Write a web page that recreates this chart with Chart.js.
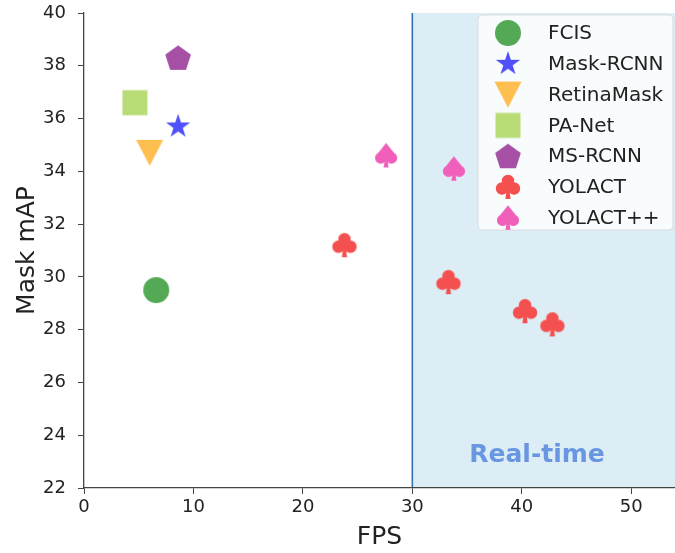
<!DOCTYPE html>
<html>
<head>
<meta charset="utf-8">
<script src="https://cdn.jsdelivr.net/npm/chart.js@4.4.1/dist/chart.umd.min.js"></script>
<style>
  html, body { margin: 0; padding: 0; background: #fff; overflow: hidden; }
  #wrap { width: 675px; height: 553px; position: relative; }
  #chart { display: block; }
</style>
</head>
<body>
<div id="wrap"><canvas id="chart"></canvas></div>
<script>
// values
const fpsFCIS = [6.6],        mapFCIS = [29.5];
const fpsMaskRCNN = [8.6],    mapMaskRCNN = [35.7];
const fpsRetinaMask = [6.0],  mapRetinaMask = [34.7];
const fpsPANet = [4.65],      mapPANet = [36.6];
const fpsMSRCNN = [8.6],      mapMSRCNN = [38.3];
const fpsYOLACT = [23.8, 33.3, 40.3, 42.8];
const mapYOLACT = [31.2, 29.8, 28.7, 28.2];
const fpsYOLACTpp = [27.6, 33.8];
const mapYOLACTpp = [34.6, 34.1];

const xTicks = [0, 10, 20, 30, 40, 50];
const yTicks = [22, 24, 26, 28, 30, 32, 34, 36, 38, 40];
const realTimeFps = 30;

const FONT = '"DejaVu Sans", "Liberation Sans", sans-serif';

function toPoints(xs, ys) {
  return xs.map((x, i) => ({ x: x, y: ys[i] }));
}

function makeMarker(size, draw) {
  const c = document.createElement("canvas");
  c.width = size;
  c.height = size;
  const g = c.getContext("2d");
  g.translate(size / 2, size / 2);
  draw(g);
  return c;
}

function polygon(g, pts, color) {
  g.beginPath();
  pts.forEach((p, i) => (i ? g.lineTo(p[0], p[1]) : g.moveTo(p[0], p[1])));
  g.closePath();
  g.fillStyle = color;
  g.fill();
}

function starPts(r, n, inner) {
  let pts = [];
  for (let i = 0; i < n * 2; i++) {
    let a = -Math.PI / 2 + (i * Math.PI) / n;
    let rr = i % 2 ? r * inner : r;
    pts.push([rr * Math.cos(a), rr * Math.sin(a)]);
  }
  return pts;
}

function disc(g, x, y, r) {
  g.moveTo(x + r, y);
  g.arc(x, y, r, 0, Math.PI * 2);
}

const markers = {
  circle: makeMarker(32, (g) => {
    g.beginPath();
    g.arc(0, 0, 13, 0, Math.PI * 2);
    g.fillStyle = "rgb(84,170,84)";
    g.fill();
  }),
  star: makeMarker(32, (g) => polygon(g, starPts(12.8, 5, 0.382), "rgb(80,80,250)")),
  triDown: makeMarker(32, (g) =>
    polygon(g, [[0, 13], [-13.5, -13], [13.5, -13]], "rgb(255,190,80)")
  ),
  square: makeMarker(32, (g) => {
    g.fillStyle = "rgb(186,220,118)";
    g.fillRect(-12.5, -12.5, 25, 25);
  }),
  pentagon: makeMarker(32, (g) => {
    let pts = [];
    for (let i = 0; i < 5; i++) {
      let a = -Math.PI / 2 + (i * 2 * Math.PI) / 5;
      pts.push([13.5 * Math.cos(a), 13.5 * Math.sin(a) + 1]);
    }
    polygon(g, pts, "rgb(165,80,165)");
  }),
  clubs: makeMarker(32, (g) => {
    g.fillStyle = "rgb(245,80,80)";
    g.beginPath();
    disc(g, 0, -6, 6.2);
    disc(g, -6, 1.5, 6.2);
    disc(g, 6, 1.5, 6.2);
    disc(g, 0, 0, 4);
    g.fill();
    g.beginPath();
    g.moveTo(-1.3, 2);
    g.lineTo(1.3, 2);
    g.lineTo(2.6, 12);
    g.lineTo(-2.6, 12);
    g.closePath();
    g.fill();
  }),
  spades: makeMarker(32, (g) => {
    g.fillStyle = "rgb(240,95,185)";
    g.beginPath();
    disc(g, -5.3, 2.5, 5.8);
    disc(g, 5.3, 2.5, 5.8);
    g.fill();
    polygon(g, [[0, -12.5], [-10.6, 0.8], [0, 7], [10.6, 0.8]], "rgb(240,95,185)");
    polygon(g, [[-1.2, 5], [1.2, 5], [2.6, 12], [-2.6, 12]], "rgb(240,95,185)");
  }),
};

function series(label, xs, ys, marker) {
  return {
    label: label,
    data: toPoints(xs, ys),
    pointStyle: marker,
    pointRadius: 13,
    pointHoverRadius: 13,
    showLine: false,
  };
}

const datasets = [
  series("FCIS", fpsFCIS, mapFCIS, markers.circle),
  series("Mask-RCNN", fpsMaskRCNN, mapMaskRCNN, markers.star),
  series("RetinaMask", fpsRetinaMask, mapRetinaMask, markers.triDown),
  series("PA-Net", fpsPANet, mapPANet, markers.square),
  series("MS-RCNN", fpsMSRCNN, mapMSRCNN, markers.pentagon),
  series("YOLACT", fpsYOLACT, mapYOLACT, markers.clubs),
  series("YOLACT++", fpsYOLACTpp, mapYOLACTpp, markers.spades),
];

// light blue real-time zone + its boundary line
const realTimeZone = {
  id: "realTimeZone",
  beforeDraw(chart) {
    const { ctx, chartArea, scales } = chart;
    const x30 = scales.x.getPixelForValue(realTimeFps);
    ctx.save();
    ctx.fillStyle = "rgb(220,237,245)";
    ctx.fillRect(x30, chartArea.top, chartArea.right - x30, chartArea.bottom - chartArea.top);
    ctx.strokeStyle = "rgb(50,115,180)";
    ctx.lineWidth = 1.6;
    ctx.beginPath();
    ctx.moveTo(x30, chartArea.top);
    ctx.lineTo(x30, chartArea.bottom);
    ctx.stroke();
    ctx.fillStyle = "rgb(105,150,225)";
    ctx.font = "bold 25px " + FONT;
    ctx.textBaseline = "alphabetic";
    ctx.fillText("Real-time", scales.x.getPixelForValue(35.2), scales.y.getPixelForValue(23));
    ctx.restore();
  },
};

// legend drawn inside the plot, top right
const innerLegend = {
  id: "innerLegend",
  afterDraw(chart) {
    const { ctx, chartArea } = chart;
    const left = chartArea.right - 197;
    const top = chartArea.top + 2;
    const w = 195, h = 215;
    ctx.save();
    ctx.beginPath();
    ctx.roundRect(left, top, w, h, 4);
    ctx.fillStyle = "rgba(255,255,255,0.8)";
    ctx.fill();
    ctx.strokeStyle = "rgb(215,220,222)";
    ctx.lineWidth = 1;
    ctx.stroke();
    ctx.font = "20px " + FONT;
    ctx.fillStyle = "#222";
    ctx.textBaseline = "middle";
    chart.data.datasets.forEach((ds, i) => {
      const cy = top + 18 + i * 30.8;
      const img = ds.pointStyle;
      ctx.drawImage(img, left + 30 - img.width / 2, cy - img.height / 2);
      ctx.fillText(ds.label, left + 70, cy + 1);
    });
    ctx.restore();
  },
};

const axisColor = "#444";

new Chart(document.getElementById("chart"), {
  type: "scatter",
  data: { datasets },
  plugins: [realTimeZone, innerLegend],
  options: {
    responsive: true,
    maintainAspectRatio: false,
    animation: false,
    events: [],
    layout: { autoPadding: false, padding: { top: 13, right: 0, left: 0, bottom: 0 } },
    plugins: {
      legend: { display: false },
      tooltip: { enabled: false },
    },
    scales: {
      x: {
        type: "linear",
        min: 0,
        max: 54,
        afterFit: (s) => { s.height = 65; s.paddingLeft = 0; s.paddingRight = 0; },
        afterBuildTicks: (s) => { s.ticks = xTicks.map((v) => ({ value: v })); },
        ticks: { color: "#222", font: { family: FONT, size: 18 }, padding: 3 },
        grid: { drawOnChartArea: false, drawTicks: true, tickLength: 6, tickColor: axisColor },
        border: { color: axisColor, width: 1.3 },
        title: {
          display: true,
          text: "FPS",
          color: "#222",
          font: { family: FONT, size: 25 },
          padding: { top: 0, bottom: 1 },
        },
      },
      y: {
        type: "linear",
        min: 22,
        max: 40,
        afterFit: (s) => { s.width = 84; s.paddingTop = 0; s.paddingBottom = 0; },
        afterBuildTicks: (s) => { s.ticks = yTicks.map((v) => ({ value: v })); },
        ticks: { color: "#222", font: { family: FONT, size: 18 }, padding: 12 },
        grid: { drawOnChartArea: false, drawTicks: true, tickLength: 6, tickColor: axisColor },
        border: { color: axisColor, width: 1.3 },
        title: {
          display: true,
          text: "Mask mAP",
          color: "#222",
          font: { family: FONT, size: 25 },
          padding: { top: 12, bottom: 0 },
        },
      },
    },
  },
});
</script>
</body>
</html>
